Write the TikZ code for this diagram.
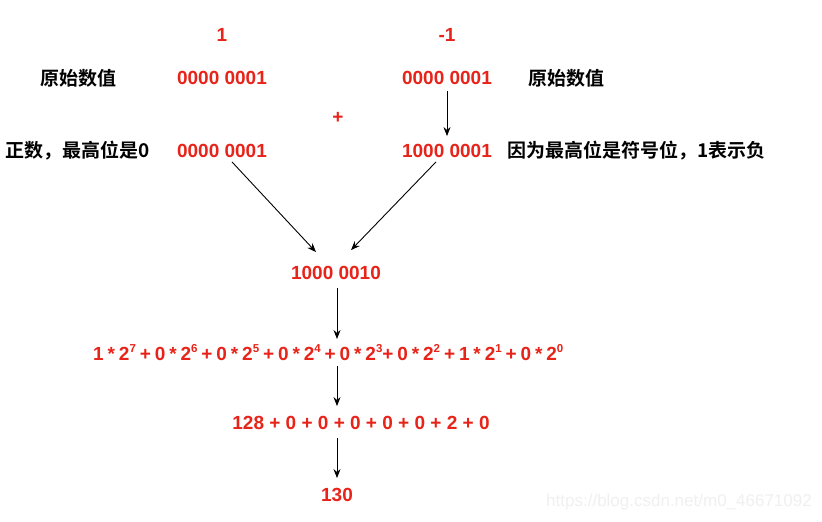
\documentclass[tikz,border=0pt]{standalone}
\usepackage{fontspec}
\setmainfont{Liberation Sans}
\newfontfamily\cjk{Noto Sans CJK SC}[BoldFont={* Bold}]
\usetikzlibrary{arrows.meta}
\definecolor{numred}{RGB}{232,35,25}
\newcommand\powsup[1]{\raisebox{0.42em}{\fontsize{11.5}{12}\selectfont #1}}
\tikzset{
  num/.style={text=numred,font=\fontsize{19}{21}\selectfont\bfseries,inner sep=0pt},
  lab/.style={text=black,font=\fontsize{19}{21}\selectfont\cjk\bfseries,inner sep=0pt},
  arr/.style={draw=black,line width=0.9pt,-{Stealth[length=9pt,width=7pt]}},
  wm/.style={text=black!6,font=\fontsize{17}{19}\selectfont,inner sep=0pt}
}
\begin{document}
\begin{tikzpicture}[x=1pt,y=-1pt]
\useasboundingbox[fill=white] (0,0) rectangle (822,522);
\node[num] (one) at (222,35) {1};
\node[num] (mone) at (447,35) {-1};
\node[lab] (origL) at (78,78) {原始数值};
\node[num] (l1) at (222,78) {0000 0001};
\node[num] (r1) at (447,78) {0000 0001};
\node[lab] (origR) at (566,78) {原始数值};
\node[num] (plus) at (338,118) {+};
\node[lab,anchor=west] (pos) at (5,151) {正数，最高位是0};
\node[num] (l2) at (222,151) {0000 0001};
\node[num] (r2) at (447,151) {1000 0001};
\node[lab,anchor=west] (neg) at (507,151) {因为最高位是符号位，1表示负};
\node[num] (sum) at (336,273) {1000 0010};
\node[num,anchor=west] (form) at (93,353) {\spaceskip=3.9pt 1 * 2\powsup{7} + 0 * 2\powsup{6} + 0 * 2\powsup{5} + 0 * 2\powsup{4} + 0 * 2\powsup{3}+ 0 * 2\powsup{2} + 1 * 2\powsup{1} + 0 * 2\powsup{0}};
\node[num] (dec) at (361,423) {128 + 0 + 0 + 0 + 0 + 0 + 2 + 0};
\node[num] (res) at (337,495) {130};
\node[wm,anchor=east] (wmark) at (812,502) {https://blog.csdn.net/m0\_46671092};
\draw[arr] ([yshift=-6pt]r1.south) -- ([yshift=8pt]r2.north);
\draw[arr] ([xshift=10pt,yshift=-4pt]l2.south) -- ([xshift=-20pt,yshift=14pt]sum.north);
\draw[arr] ([xshift=-11pt,yshift=-4pt]r2.south) -- ([xshift=15pt,yshift=16pt]sum.north);
\draw[arr] ([xshift=1pt,yshift=-8pt]sum.south) -- (337,339);
\draw[arr] (337,366) -- ([xshift=-24pt,yshift=10pt]dec.north);
\draw[arr] ([xshift=-24pt,yshift=-8pt]dec.south) -- ([yshift=10pt]res.north);
\end{tikzpicture}
\end{document}
